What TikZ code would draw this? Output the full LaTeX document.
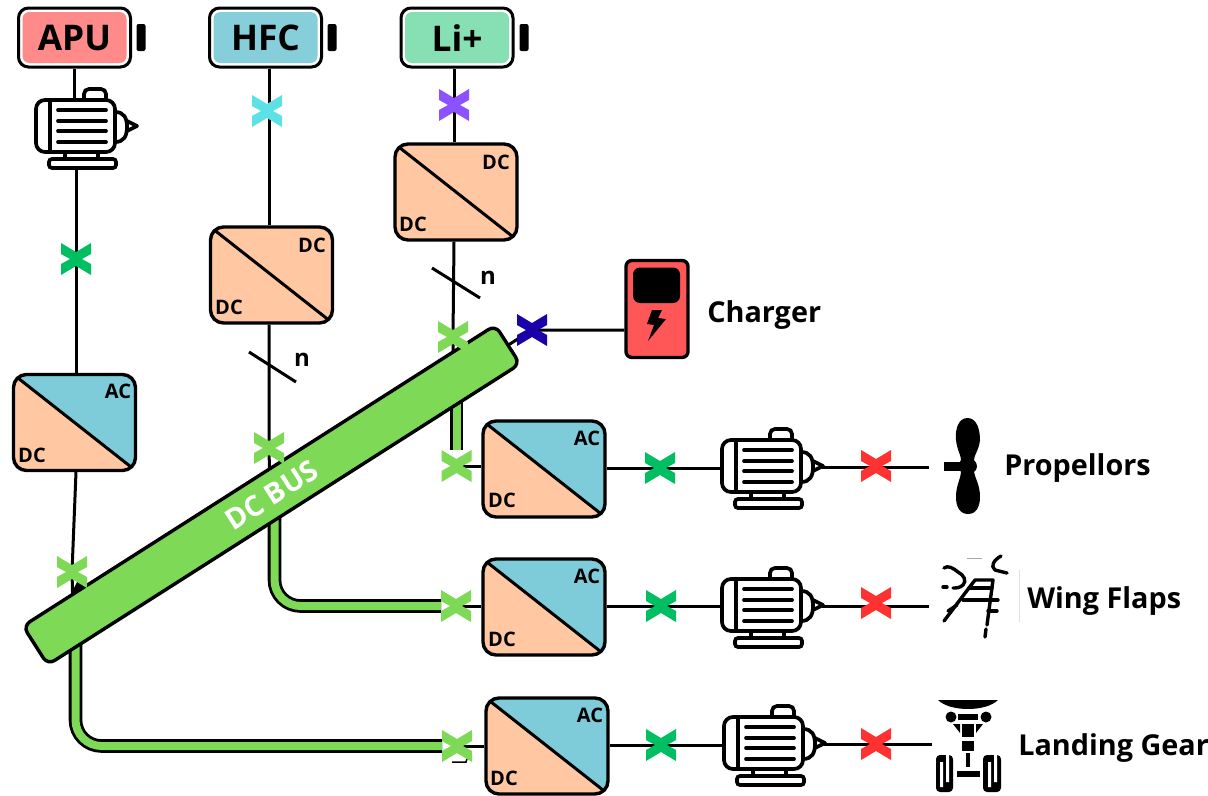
\documentclass[tikz,border=0pt]{standalone}
\usepackage{fontspec}
\setmainfont{Open Sans}
\usetikzlibrary{calc,backgrounds}
\def\px{0.75pt}
\definecolor{xgreen}{HTML}{00BF63}
\definecolor{xlight}{HTML}{7ED957}
\definecolor{xcyan}{HTML}{5CE1E6}
\definecolor{xpurple}{HTML}{8C52FF}
\definecolor{xnavy}{HTML}{1A00A8}
\definecolor{xred}{HTML}{FF3131}
\definecolor{peach}{HTML}{FFC8A2}
\definecolor{teal}{HTML}{7ECBD9}
\definecolor{battred}{HTML}{FF8A8A}
\definecolor{battblue}{HTML}{86CEDA}
\definecolor{battgreen}{HTML}{86E0B4}
\definecolor{chargered}{HTML}{FF5757}
\tikzset{
  x=0.75pt,y=-0.75pt,
  wire/.style={line width=3*\px,black},
  mline/.style={line width=3.7*\px,black},
  pipe/.style={line width=2.8*\px,draw=black,double=xlight,double distance=8*\px,rounded corners=26*\px},
  xmark/.style={rectangle,inner sep=0,outer sep=0,minimum width=30*\px,minimum height=32*\px,
    path picture={\fill[#1,shift={(path picture bounding box.center)}]
      (-15,-16)--(0,-7)--(15,-16)--(15,-5)--(6,0)--(15,5)--(15,16)--(0,7)--(-15,16)--(-15,5)--(-6,0)--(-15,-5)--cycle;}},
  batt/.style={rectangle,draw=black,line width=3*\px,fill=white,rounded corners=10*\px,
    minimum width=112*\px,minimum height=59*\px,inner sep=0,
    path picture={\fill[#1,rounded corners=7*\px,shift={(path picture bounding box.center)}] (-52,-25.5) rectangle (52,25.5);}},
  battlabel/.style={inner sep=0,font=\fontsize{26.5}{26.5}\selectfont\bfseries},
  battcap/.style={rectangle,fill=black,rounded corners=2*\px,minimum width=9*\px,minimum height=27*\px,inner sep=0},
  conv/.style={rectangle,draw=black,line width=3.4*\px,fill=peach,rounded corners=13*\px,
    minimum width=122*\px,minimum height=96*\px,inner sep=0},
  acdc/.style={conv,path picture={
    \fill[teal,sharp corners] (path picture bounding box.north west)--(path picture bounding box.north east)--(path picture bounding box.south east)--cycle;
    \draw[black,line width=3*\px,sharp corners] (path picture bounding box.north west)--(path picture bounding box.south east);}},
  dcdc/.style={conv,path picture={
    \draw[black,line width=3*\px,sharp corners] (path picture bounding box.north west)--(path picture bounding box.south east);}},
  convlabel/.style={font=\fontsize{15}{15}\selectfont\bfseries,inner sep=0},
  tick/.style={font=\fontsize{18}{18}\selectfont\bfseries,inner sep=0},
  sidelabel/.style={font=\fontsize{21.6}{21.6}\selectfont\bfseries,inner sep=0,anchor=west},
  icon/.style={line width=3.4*\px,black,line cap=round,line join=round},
  motor/.pic={
    \node[rectangle,minimum width=79*\px,minimum height=52*\px,inner sep=0,outer sep=0] (-body) at (39.5,26) {};
    \coordinate (-tip) at (100,27);
    \coordinate (-top) at (39.5,0);
    \coordinate (-base) at (40,68);
    \draw[mline,fill=white,line join=round] (91,21)--(101,26)--(91,31)--cycle;
    \draw[mline,fill=white] (79,12) .. controls (88,12) and (91,18) .. (91,27) .. controls (91,36) and (88,42) .. (79,42);
    \draw[mline,fill=white,rounded corners=5*\px] (48,2)--(48,-11)--(70,-11)--(70,2);
    \draw[mline,fill=white,rounded corners=9*\px] (0,0) rectangle (79,52);
    \draw[mline] (14,0)--(14,52);
    \draw[mline,line cap=round] (22,10)--(70,10) (22,21)--(70,21) (22,31)--(70,31) (22,42)--(70,42);
    \draw[mline] (29,52)--(29,59) (62,52)--(62,59);
    \draw[mline,fill=white,rounded corners=3*\px] (13,59) rectangle (80,68);
  }
}
\begin{document}
\begin{tikzpicture}
\useasboundingbox (0,0) rectangle (1208,796);
% batteries
\node[batt=battred] (apu) at (74.5,37.5) {};
\node[battlabel] (lapu) at (74.5,38) {APU};
\node[battcap] (apucap) at (141,37.5) {};
\node[batt=battblue] (hfc) at (265.5,37.5) {};
\node[battlabel] (lhfc) at (265.5,38) {HFC};
\node[battcap] (hfccap) at (332,37.5) {};
\node[batt=battgreen] (li) at (457,37.5) {};
\node[battlabel] (lli) at (457,38) {Li+};
\node[battcap] (licap) at (524,37.5) {};
% motors
\pic (m1) at (36,100) {motor};
\pic (m2) at (722,440) {motor};
\pic (m3) at (722,579) {motor};
\pic (m4) at (724,717) {motor};
% converters
\node[acdc] (capu) at (74.5,422.5) {};
\node[dcdc] (chfc) at (271.5,275) {};
\node[dcdc] (cli) at (456,192) {};
\node[acdc] (cprop) at (544,469) {};
\node[acdc] (cwing) at (544,607) {};
\node[acdc] (cland) at (547,746) {};
\node[convlabel] (lapuac) at (118,391) {AC};
\node[convlabel] (lapudc) at (32,455) {DC};
\node[convlabel] (lhfct) at (312,245) {DC};
\node[convlabel] (lhfcb) at (229,307) {DC};
\node[convlabel] (llit) at (496,162) {DC};
\node[convlabel] (llib) at (413,224) {DC};
\node[convlabel] (lpa) at (587,438) {AC};
\node[convlabel] (lpd) at (502,500) {DC};
\node[convlabel] (lwa) at (587,576) {AC};
\node[convlabel] (lwd) at (502,639) {DC};
\node[convlabel] (lla) at (590,715) {AC};
\node[convlabel] (lld) at (504,778) {DC};
% dc bus
\node[rectangle,draw=black,line width=3.4*\px,fill=xlight,rounded corners=8*\px,rotate=32.5,
  minimum width=560*\px,minimum height=46*\px,inner sep=0,text=white,
  font=\fontsize{21.5}{21.5}\selectfont\bfseries] (bus) at (271.5,495) {DC BUS};
% switches
\node[xmark=xgreen] (xapu) at (76,259) {};
\node[xmark=xcyan] (xhfc) at (267,111) {};
\node[xmark=xpurple] (xli) at (454,105) {};
\node[xmark=xlight] (xbapu) at (72,572) {};
\node[xmark=xlight] (xbhfc) at (269,448) {};
\node[xmark=xlight] (xbli) at (453,337) {};
\node[xmark=xnavy] (xchg) at (532,330) {};
\node[xmark=xlight] (xp) at (456.5,466) {};
\node[xmark=xlight] (xw) at (456,606) {};
\node[xmark=xlight] (xl) at (457,746) {};
\node[xmark=xgreen] (xp2) at (660,468) {};
\node[xmark=xgreen] (xw2) at (661,606) {};
\node[xmark=xgreen] (xl2) at (661,745) {};
\node[xmark=xred] (xp3) at (876,466) {};
\node[xmark=xred] (xw3) at (876,603) {};
\node[xmark=xred] (xl3) at (876,744) {};
% charger
\node[rectangle,draw=black,line width=3.4*\px,fill=chargered,rounded corners=6*\px,
  minimum width=62*\px,minimum height=97*\px,inner sep=0,
  path picture={\fill[black,rounded corners=7*\px,shift={(path picture bounding box.center)}] (-24,-41.5) rectangle (23,-6);
    \fill[black,sharp corners,shift={(path picture bounding box.center)}] (-5,1)--(5,1)--(1,9)--(9,10)--(-9,32)--(-3,16)--(-10,15)--cycle;}]
  (chg) at (657,309) {};
% free ends
\coordinate (prop) at (929,467);
\coordinate (wing) at (929,606);
\coordinate (gear) at (932,744);
\coordinate (tapapu) at (73,610);
\coordinate (taphfc) at (270,495);
\coordinate (tapli) at (453,365);
\coordinate (wingtap) at (274.5,480);
\coordinate (landtap) at (75.5,640);
\coordinate (proptap) at (456.5,390);
% connectors
\begin{scope}[on background layer]
  \fill[white] (0,0) rectangle (1208,796);
  \draw[wire] (apu.south) -- (m1-top -| apu.south);
  \draw[wire] (m1-base -| xapu) -- (xapu.center) -- (capu.north -| xapu);
  \draw[wire] (capu.south -| xapu) -- (xbapu.center) -- (tapapu);
  \draw[wire] (hfc.south -| xbhfc) -- (chfc.north -| xbhfc);
  \draw[wire] (chfc.south -| xbhfc) -- (xbhfc.center) -- (taphfc);
  \draw[wire] (li.south -| xli) -- (xli.center) -- (cli.north -| xli);
  \draw[wire] (cli.south -| xli) -- (xbli.center) -- (tapli);
  \draw[wire] (chg.west |- xchg) -- (xchg.center) -- (bus.center);
  \draw[pipe] (proptap) -- (xp.north);
  \draw[pipe] (wingtap) -- (wingtap |- xw) -- (xw.west);
  \draw[pipe] (landtap) -- (landtap |- xl) -- (xl.west);
  \draw[wire] (xp.center) -- (xp.center -| cprop.west);
  \draw[wire] (xw.center) -- (xw.center -| cwing.west);
  \draw[wire] (xl.center) -- (xl.center -| cland.west);
  \draw[wire] (xp2.center -| cprop.east) -- (xp2.center) -- (xp2.center -| m2-body.west);
  \draw[wire] (xw2.center -| cwing.east) -- (xw2.center) -- (xw2.center -| m3-body.west);
  \draw[wire] (xl2.center -| cland.east) -- (xl2.center) -- (xl2.center -| m4-body.west);
  \draw[wire] (m2-tip) -- (prop);
  \draw[wire] (m3-tip) -- (wing);
  \draw[wire] (m4-tip) -- (gear);
  \draw[line width=1.5*\px,black] (452,762)--(466,762)--(467,759);
  \fill[black] (72,592)--(79,578)--(87,590)--cycle;
\end{scope}
% n ticks
\coordinate (t1a) at (249,352); \coordinate (t1b) at (296,382);
\coordinate (t2a) at (432,268); \coordinate (t2b) at (480,298);
\draw[wire] (t1a) -- (t1b);
\draw[wire] (t2a) -- (t2b);
\node[tick] (n1) at (302,360) {n};
\node[tick] (n2) at (488,278) {n};
% propeller
\fill[black] (944,462) rectangle (968,471);
\fill[black] (967.5,418) .. controls (958,418) and (955,430) .. (956,440) .. controls (957,450) and (961,455) .. (961,460)
  .. controls (958,464) and (958,469) .. (961,472) .. controls (961,478) and (956,485) .. (956,497)
  .. controls (956,507) and (960,514) .. (968,514) .. controls (976,514) and (980,507) .. (980,497)
  .. controls (980,485) and (975,478) .. (974,472) .. controls (978,469) and (978,464) .. (974,460)
  .. controls (974,455) and (979,450) .. (980,440) .. controls (980,430) and (977,418) .. cycle;
% wing flaps
\draw[icon] (944,568) .. controls (948,565) and (953,568) .. (958,572) .. controls (964,575) and (967,581) .. (963,585) .. controls (960,588) and (956,588) .. (953,588);
\draw[icon] (943,587)--(947,587);
\draw[icon] (1001,556) .. controls (994,560) and (990,566) .. (995,570) -- (1007,573);
\draw[icon] (944,621)--(975,580)--(993,580)--(987,625);
\draw[icon] (986,629)--(985,637);
\draw[icon] (969,588)--(992,588);
\draw[icon] (963,600)--(998,600);
\draw[icon] (988,611)--(997,611);
\draw[icon] (948,611)--(957,605);
\draw[line width=1*\px,black!35] (967,558)--(982,558);
\draw[line width=1*\px,black!12] (1019,570)--(1019,622);
% landing gear
\fill[black] (938,700) .. controls (950,712) and (986,712) .. (998,700) -- cycle;
\fill[black] (951,717) circle[radius=5.5] (986,717) circle[radius=5.5];
\fill[black] (958,714) rectangle (978,720);
\fill[black] (962,724) rectangle (974,737);
\fill[black] (953,724)--(960,724)--(960,733)--cycle;
\fill[black] (976,724)--(983,724)--(976,733)--cycle;
\fill[black] (962,741) rectangle (974,751);
\fill[black] (966,753) rectangle (970,767);
\fill[black] (957,771) rectangle (980,777);
\fill[black,rounded corners=4*\px] (936,755) rectangle (953,792);
\fill[black,rounded corners=4*\px] (983,755) rectangle (1001,792);
\fill[white] (940,762) rectangle (943,787) (946,755) rectangle (949,782);
\fill[white] (988,762) rectangle (991,787) (994,755) rectangle (997,782);
% side labels
\node[sidelabel] (lcharger) at (707,315) {Charger};
\node[sidelabel] (lprop) at (1004,468) {Propellors};
\node[sidelabel] (lwing) at (1027,601) {Wing Flaps};
\node[sidelabel] (lgear) at (1018,748) {Landing Gear};
\end{tikzpicture}
\end{document}
